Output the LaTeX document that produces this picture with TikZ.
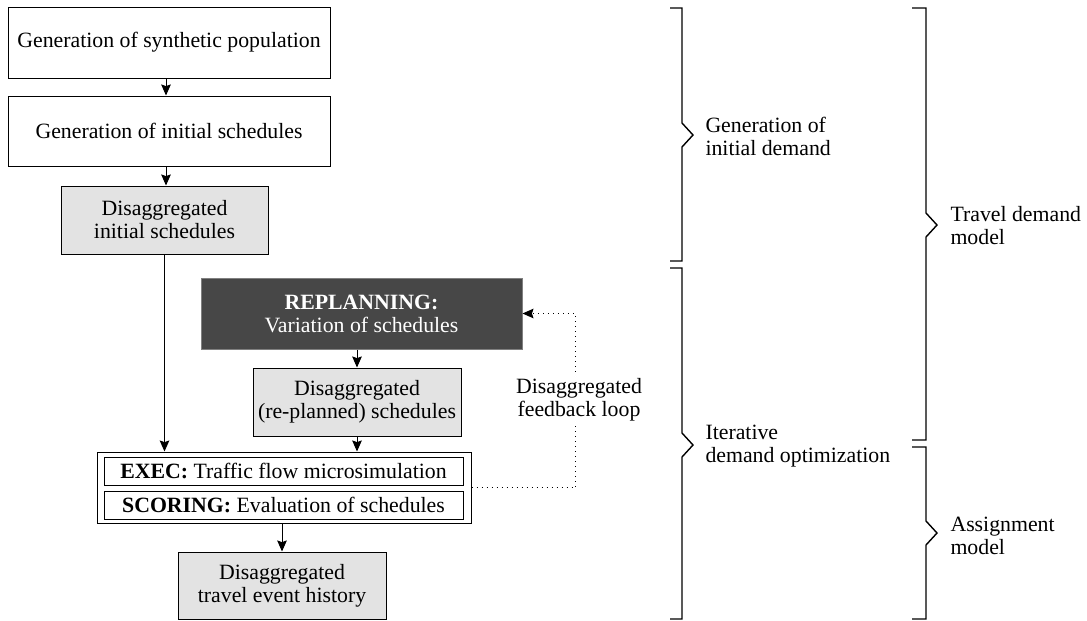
\documentclass[tikz,border=0pt]{standalone}
\usepackage{fontspec}
\setmainfont{Liberation Serif}
\usetikzlibrary{arrows.meta, positioning, calc}

\definecolor{boxgray}{HTML}{E3E3E3}
\definecolor{darkfill}{HTML}{474747}

\tikzset{
  box/.style={draw, inner sep=0pt, align=center, font=\fontsize{10.9}{11.5}\selectfont},
  plainbox/.style={box, minimum width=161pt, minimum height=35.5pt},
  graybox/.style={box, fill=boxgray, minimum width=104pt, minimum height=34pt},
  darkbox/.style={box, fill=darkfill, draw=gray, text=white, minimum width=160.5pt, minimum height=35.5pt},
  execbox/.style={box, minimum width=179.5pt, minimum height=14pt},
  fb/.style={dotted, line width=0.5pt},
  brace/.style={line width=0.7pt},
  bracelabel/.style={anchor=west, align=left, inner sep=0pt, font=\fontsize{10.9}{11.5}\selectfont}
}

\begin{document}
\begin{tikzpicture}[x=0.5pt, y=-0.5pt, line width=0.5pt, >={Stealth[length=5.5pt, width=4.8pt, inset=0.8pt]}]
  \useasboundingbox (0,0) rectangle (1087,621);
  % flow on the left
  \node[plainbox] (pop) at (169,42.5) {Generation of synthetic population};
  \node[plainbox, minimum height=35pt] (init) at (169,131) {Generation of initial schedules};
  \node[graybox, minimum width=103.5pt] (disinit) at (164.5,220) {Disaggregated\\initial schedules};
  \node[darkbox] (replan) at (361.5,313.5) {\textbf{REPLANNING:}\\Variation of schedules};
  \node[graybox] (disre) at (357,402) {Disaggregated\\(re-planned) schedules};
  \node[box, minimum width=187pt, minimum height=35.5pt] (exec) at (284,487.5) {};
  \node[execbox] (sim) at (283.5,471) {\textbf{EXEC:} Traffic flow microsimulation};
  \node[execbox] (score) at (283.5,505) {\textbf{SCORING:} Evaluation of schedules};
  \node[graybox, minimum height=33.5pt] (history) at (282,585.5) {Disaggregated\\travel event history};

  \draw[->] (pop.south -| 166,0) -- (init.north -| 166,0);
  \draw[->] (init.south -| 166,0) -- (disinit.north -| 166,0);
  \draw[->] (disinit.south) -- (disinit.south |- exec.north);
  \draw[->] (replan.south -| disre.north) -- (disre.north);
  \draw[->] (disre.south) -- (disre.south |- exec.north);
  \draw[->] (exec.south -| history.north) -- (history.north);

  % feedback loop
  \draw[fb, ->] (exec.east) -- ++(104,0) |- (replan.east);
  \node[fill=white, align=center, inner sep=2pt, font=\fontsize{10.9}{11.5}\selectfont] (loop) at (579,400) {Disaggregated\\feedback loop};

  % brackets on the right
  \draw[brace] (670,8) -- (682,8) -- (682,123) -- (693,135) -- (682,147) -- (682,261) -- (670,261);
  \draw[brace] (670,268) -- (682,268) -- (682,433) -- (693,445) -- (682,457) -- (682,619) -- (670,619);
  \draw[brace] (912,8) -- (926,8) -- (926,213) -- (937,225) -- (926,237) -- (926,440) -- (912,440);
  \draw[brace] (912,447) -- (926,447) -- (926,521) -- (937,533) -- (926,545) -- (926,619) -- (912,619);
  \node[bracelabel] (initdemand) at (705,136) {Generation of\\initial demand};
  \node[bracelabel] (iterdemand) at (705,446) {Iterative\\demand optimization};
  \node[bracelabel] (travel) at (950,226) {Travel demand\\model};
  \node[bracelabel] (assign) at (950,536) {Assignment\\model};
\end{tikzpicture}
\end{document}
